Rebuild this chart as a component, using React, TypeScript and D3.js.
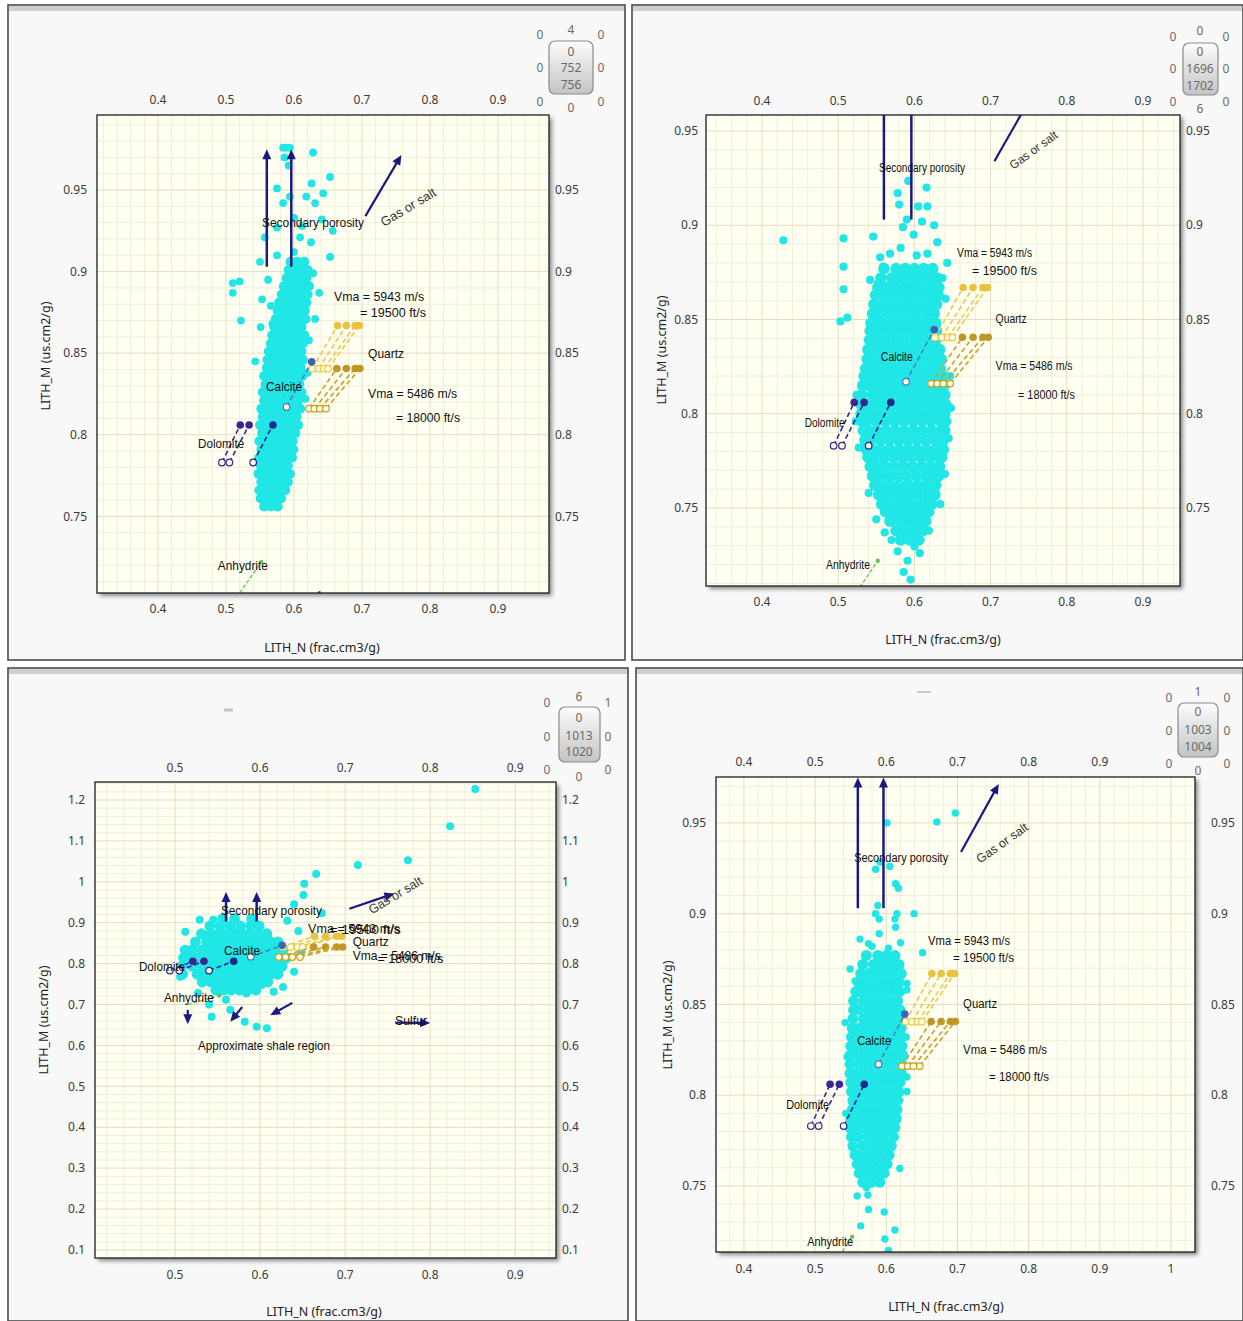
import React from "react";
import * as d3 from "d3";

// ---------- tick values ----------
const X_TICKS = [0.4, 0.5, 0.6, 0.7, 0.8, 0.9];
const X_TICKS_P3 = [0.5, 0.6, 0.7, 0.8, 0.9];
const X_TICKS_P4_BOTTOM = [0.4, 0.5, 0.6, 0.7, 0.8, 0.9, 1];
const Y_TICKS = [0.75, 0.8, 0.85, 0.9, 0.95];
const Y_TICKS_P3 = [0.1, 0.2, 0.3, 0.4, 0.5, 0.6, 0.7, 0.8, 0.9, 1, 1.1, 1.2];

// ---------- scatter data: dense core rows [y, xs] and sparse points [x, y] ----------
const P1_CORE: [number, number[]][] = [
  [0.756, [0.556, 0.566, 0.576]],
  [0.761, [0.551, 0.561, 0.571, 0.581]],
  [0.766, [0.549, 0.558, 0.568, 0.578, 0.587]],
  [0.771, [0.552, 0.562, 0.572, 0.582, 0.591]],
  [0.776, [0.548, 0.557, 0.567, 0.577, 0.587, 0.594]],
  [0.781, [0.551, 0.561, 0.571, 0.581, 0.591]],
  [0.786, [0.549, 0.558, 0.568, 0.578, 0.588, 0.597]],
  [0.791, [0.552, 0.562, 0.572, 0.582, 0.592, 0.599]],
  [0.796, [0.549, 0.558, 0.568, 0.578, 0.588, 0.598]],
  [0.801, [0.553, 0.563, 0.573, 0.583, 0.593, 0.602]],
  [0.806, [0.55, 0.559, 0.569, 0.579, 0.589, 0.599, 0.606]],
  [0.811, [0.554, 0.564, 0.574, 0.584, 0.594, 0.604]],
  [0.816, [0.552, 0.561, 0.571, 0.581, 0.591, 0.601, 0.609]],
  [0.821, [0.556, 0.566, 0.576, 0.586, 0.596, 0.606]],
  [0.826, [0.554, 0.563, 0.573, 0.583, 0.593, 0.603, 0.611]],
  [0.831, [0.558, 0.568, 0.578, 0.588, 0.598, 0.608]],
  [0.836, [0.556, 0.565, 0.575, 0.585, 0.595, 0.605, 0.612]],
  [0.841, [0.56, 0.57, 0.58, 0.59, 0.6, 0.61]],
  [0.846, [0.561, 0.567, 0.577, 0.587, 0.597, 0.607, 0.613]],
  [0.851, [0.563, 0.572, 0.582, 0.592, 0.602, 0.611]],
  [0.856, [0.566, 0.575, 0.585, 0.595, 0.605, 0.613]],
  [0.861, [0.568, 0.578, 0.588, 0.598, 0.608, 0.615]],
  [0.866, [0.571, 0.581, 0.591, 0.601, 0.611]],
  [0.871, [0.573, 0.583, 0.593, 0.603, 0.613, 0.617]],
  [0.876, [0.576, 0.586, 0.596, 0.606, 0.616]],
  [0.881, [0.578, 0.588, 0.598, 0.608, 0.618]],
  [0.886, [0.582, 0.591, 0.601, 0.611, 0.62]],
  [0.891, [0.585, 0.594, 0.604, 0.614, 0.622]],
  [0.896, [0.589, 0.598, 0.608, 0.618]],
  [0.901, [0.592, 0.602, 0.612, 0.62]],
  [0.906, [0.595, 0.605, 0.615]],
];
const P1_SPARSE: [number, number][] = [
  [0.628, 0.973], [0.584, 0.976], [0.589, 0.976], [0.594, 0.976], [0.586, 0.97], [0.592, 0.965],
  [0.575, 0.951], [0.594, 0.946], [0.626, 0.954], [0.653, 0.958], [0.643, 0.948], [0.618, 0.946],
  [0.631, 0.942], [0.584, 0.942], [0.557, 0.921], [0.575, 0.927], [0.609, 0.921], [0.641, 0.932],
  [0.657, 0.925], [0.653, 0.909], [0.575, 0.91], [0.55, 0.906], [0.51, 0.893], [0.52, 0.894],
  [0.51, 0.887], [0.553, 0.883], [0.522, 0.87], [0.568, 0.868], [0.551, 0.866], [0.543, 0.845],
  [0.637, 0.887], [0.631, 0.871], [0.6, 0.933], [0.612, 0.928], [0.625, 0.918], [0.6, 0.912],
  [0.622, 0.858], [0.62, 0.838], [0.562, 0.895], [0.628, 0.899], [0.566, 0.879], [0.617, 0.822],
];

const P2_CORE: [number, number[]][] = [
  [0.733, [0.582, 0.594, 0.606]],
  [0.738, [0.576, 0.588, 0.6, 0.611]],
  [0.743, [0.568, 0.58, 0.592, 0.604, 0.615]],
  [0.748, [0.562, 0.574, 0.586, 0.598, 0.61, 0.619]],
  [0.752, [0.557, 0.568, 0.58, 0.592, 0.604, 0.616, 0.623]],
  [0.757, [0.553, 0.563, 0.575, 0.587, 0.599, 0.611, 0.623, 0.627]],
  [0.762, [0.548, 0.557, 0.569, 0.581, 0.593, 0.605, 0.617, 0.628]],
  [0.767, [0.545, 0.554, 0.566, 0.578, 0.59, 0.602, 0.614, 0.626, 0.632]],
  [0.772, [0.542, 0.551, 0.562, 0.574, 0.586, 0.598, 0.61, 0.622, 0.633]],
  [0.777, [0.539, 0.548, 0.56, 0.572, 0.584, 0.596, 0.608, 0.62, 0.632, 0.636]],
  [0.781, [0.537, 0.545, 0.556, 0.568, 0.58, 0.592, 0.604, 0.616, 0.628, 0.638]],
  [0.786, [0.535, 0.543, 0.555, 0.567, 0.579, 0.591, 0.603, 0.615, 0.627, 0.638]],
  [0.791, [0.533, 0.54, 0.551, 0.563, 0.575, 0.587, 0.599, 0.611, 0.623, 0.635, 0.64]],
  [0.796, [0.531, 0.538, 0.55, 0.562, 0.574, 0.586, 0.598, 0.61, 0.622, 0.634, 0.641]],
  [0.8, [0.53, 0.535, 0.545, 0.557, 0.569, 0.581, 0.593, 0.605, 0.617, 0.629, 0.64]],
  [0.805, [0.53, 0.539, 0.551, 0.563, 0.575, 0.587, 0.599, 0.611, 0.623, 0.635, 0.641]],
  [0.81, [0.531, 0.545, 0.557, 0.569, 0.581, 0.593, 0.605, 0.617, 0.629, 0.64]],
  [0.815, [0.532, 0.54, 0.551, 0.563, 0.575, 0.587, 0.599, 0.611, 0.623, 0.635, 0.639]],
  [0.82, [0.534, 0.545, 0.557, 0.569, 0.581, 0.593, 0.605, 0.617, 0.629, 0.638]],
  [0.824, [0.536, 0.541, 0.551, 0.563, 0.575, 0.587, 0.599, 0.611, 0.623, 0.634]],
  [0.829, [0.538, 0.546, 0.558, 0.57, 0.582, 0.594, 0.606, 0.618, 0.63, 0.635]],
  [0.834, [0.539, 0.551, 0.563, 0.575, 0.587, 0.599, 0.611, 0.623, 0.633]],
  [0.839, [0.541, 0.546, 0.557, 0.569, 0.581, 0.593, 0.605, 0.617, 0.628]],
  [0.844, [0.542, 0.552, 0.564, 0.576, 0.588, 0.6, 0.612, 0.624, 0.629]],
  [0.848, [0.543, 0.548, 0.558, 0.57, 0.582, 0.594, 0.606, 0.618, 0.628]],
  [0.853, [0.545, 0.554, 0.566, 0.578, 0.59, 0.602, 0.614, 0.626]],
  [0.858, [0.547, 0.56, 0.572, 0.584, 0.596, 0.608, 0.62, 0.629]],
  [0.863, [0.549, 0.556, 0.568, 0.58, 0.592, 0.604, 0.616, 0.627, 0.631]],
  [0.867, [0.552, 0.563, 0.575, 0.587, 0.599, 0.611, 0.623, 0.632]],
  [0.872, [0.556, 0.57, 0.582, 0.594, 0.606, 0.618, 0.63]],
  [0.877, [0.56, 0.576, 0.588, 0.6, 0.612, 0.624]],
];
const P2_SPARSE: [number, number][] = [
  [0.592, 0.9235], [0.578, 0.917], [0.616, 0.92], [0.58, 0.911], [0.605, 0.91], [0.617, 0.91],
  [0.626, 0.9], [0.507, 0.893], [0.546, 0.894], [0.428, 0.892], [0.599, 0.895], [0.568, 0.885],
  [0.63, 0.891], [0.617, 0.885], [0.643, 0.88], [0.559, 0.878], [0.507, 0.878], [0.507, 0.866],
  [0.542, 0.871], [0.552, 0.869], [0.503, 0.849], [0.512, 0.851], [0.59, 0.903], [0.585, 0.899],
  [0.61, 0.902], [0.586, 0.716], [0.595, 0.712], [0.591, 0.722], [0.578, 0.727], [0.607, 0.726],
  [0.6, 0.7295], [0.57, 0.733], [0.555, 0.883], [0.582, 0.888], [0.603, 0.884], [0.637, 0.872],
  [0.641, 0.861], [0.524, 0.81], [0.523, 0.796], [0.527, 0.782], [0.647, 0.82], [0.648, 0.803],
  [0.645, 0.787], [0.64, 0.768], [0.634, 0.752], [0.54, 0.758], [0.55, 0.744], [0.561, 0.737],
  [0.619, 0.738],
];

const P3_CORE: [number, number[]][] = [
  [0.735, [0.548, 0.557, 0.566, 0.576, 0.585, 0.595]],
  [0.755, [0.532, 0.542, 0.552, 0.561, 0.571, 0.58, 0.59, 0.599, 0.609]],
  [0.774, [0.509, 0.526, 0.537, 0.547, 0.556, 0.566, 0.575, 0.585, 0.594, 0.604, 0.613, 0.621]],
  [0.794, [0.508, 0.52, 0.532, 0.542, 0.551, 0.561, 0.57, 0.58, 0.589, 0.599, 0.608, 0.618, 0.626]],
  [0.814, [0.51, 0.518, 0.527, 0.537, 0.546, 0.556, 0.565, 0.575, 0.584, 0.594, 0.603, 0.613, 0.622, 0.631]],
  [0.833, [0.512, 0.52, 0.532, 0.542, 0.551, 0.561, 0.57, 0.58, 0.589, 0.599, 0.608, 0.618, 0.627]],
  [0.853, [0.524, 0.537, 0.546, 0.556, 0.565, 0.575, 0.584, 0.594, 0.603, 0.613, 0.621]],
  [0.873, [0.531, 0.542, 0.551, 0.561, 0.57, 0.58, 0.589, 0.599, 0.608]],
  [0.892, [0.541, 0.553, 0.565, 0.577, 0.589, 0.599]],
  [0.91, [0.556, 0.57, 0.59]],
];
const P3_SPARSE: [number, number][] = [
  [0.853, 1.227], [0.8235, 1.136], [0.774, 1.053], [0.715, 1.041], [0.666, 1.019], [0.652, 0.995],
  [0.651, 0.968], [0.6726, 0.923], [0.64, 0.945], [0.632, 0.905], [0.645, 0.88], [0.529, 0.907],
  [0.545, 0.907], [0.512, 0.878], [0.506, 0.768], [0.527, 0.728], [0.543, 0.67], [0.565, 0.687],
  [0.582, 0.658], [0.596, 0.646], [0.608, 0.642], [0.584, 0.727], [0.602, 0.748], [0.616, 0.731],
  [0.627, 0.743], [0.56, 0.712], [0.54, 0.7], [0.64, 0.78], [0.648, 0.83],
];

const P4_CORE: [number, number[]][] = [
  [0.752, [0.567, 0.579, 0.591]],
  [0.757, [0.562, 0.573, 0.585, 0.597]],
  [0.762, [0.559, 0.567, 0.579, 0.591, 0.601]],
  [0.767, [0.556, 0.562, 0.574, 0.586, 0.598, 0.604]],
  [0.772, [0.553, 0.567, 0.58, 0.592, 0.604, 0.607]],
  [0.777, [0.551, 0.561, 0.574, 0.586, 0.598, 0.61]],
  [0.782, [0.549, 0.556, 0.568, 0.58, 0.592, 0.604, 0.612]],
  [0.787, [0.55, 0.562, 0.574, 0.586, 0.598, 0.61, 0.614]],
  [0.792, [0.552, 0.556, 0.568, 0.58, 0.592, 0.604, 0.615]],
  [0.797, [0.553, 0.562, 0.574, 0.586, 0.598, 0.61, 0.616]],
  [0.802, [0.551, 0.556, 0.568, 0.58, 0.592, 0.604, 0.616, 0.618]],
  [0.807, [0.55, 0.562, 0.574, 0.586, 0.598, 0.61, 0.619]],
  [0.812, [0.549, 0.556, 0.568, 0.58, 0.592, 0.604, 0.616, 0.621]],
  [0.817, [0.549, 0.562, 0.574, 0.586, 0.598, 0.61, 0.622]],
  [0.822, [0.549, 0.556, 0.568, 0.58, 0.592, 0.604, 0.616, 0.623]],
  [0.827, [0.55, 0.562, 0.574, 0.586, 0.598, 0.61, 0.622]],
  [0.832, [0.551, 0.556, 0.568, 0.58, 0.592, 0.604, 0.616, 0.622]],
  [0.837, [0.552, 0.562, 0.574, 0.586, 0.598, 0.61, 0.621]],
  [0.842, [0.553, 0.568, 0.58, 0.592, 0.604, 0.616, 0.62]],
  [0.847, [0.554, 0.562, 0.574, 0.586, 0.598, 0.61, 0.619]],
  [0.852, [0.554, 0.568, 0.58, 0.592, 0.604, 0.616]],
  [0.857, [0.557, 0.563, 0.575, 0.587, 0.599, 0.611, 0.619]],
  [0.862, [0.561, 0.57, 0.582, 0.594, 0.606, 0.618]],
  [0.867, [0.564, 0.576, 0.588, 0.6, 0.612, 0.621]],
  [0.872, [0.567, 0.582, 0.594, 0.606, 0.618]],
  [0.877, [0.572, 0.588, 0.6, 0.612]],
];
const P4_SPARSE: [number, number][] = [
  [0.601, 0.95], [0.671, 0.9505], [0.697, 0.9555], [0.591, 0.9285], [0.605, 0.926], [0.585, 0.9245],
  [0.613, 0.9165], [0.617, 0.914], [0.639, 0.9], [0.588, 0.9045], [0.615, 0.9], [0.585, 0.9],
  [0.59, 0.897], [0.612, 0.897], [0.59, 0.889], [0.613, 0.8925], [0.651, 0.8785], [0.563, 0.886],
  [0.575, 0.8835], [0.62, 0.884], [0.549, 0.8695], [0.556, 0.863], [0.559, 0.8577], [0.629, 0.8616],
  [0.629, 0.858], [0.559, 0.7445], [0.572, 0.749], [0.574, 0.745], [0.575, 0.737], [0.597, 0.7357],
  [0.564, 0.728], [0.612, 0.7257], [0.598, 0.7208], [0.603, 0.7145], [0.58, 0.76], [0.619, 0.7596],
  [0.629, 0.81], [0.629, 0.802], [0.545, 0.821], [0.542, 0.84], [0.543, 0.79], [0.628, 0.832],
  [0.58, 0.882], [0.603, 0.881],
];

// ---------- lithology overlay (x1, y1, x2, y2) ----------
const POROSITY_ARROWS: number[][] = [[0.56, 0.903, 0.56, 0.975], [0.596, 0.903, 0.596, 0.975]];
const GAS_ARROW: number[][] = [[0.705, 0.934, 0.758, 0.9715]];
const SHALE_ARROWS: number[][] = [[0.515, 0.687, 0.515, 0.652], [0.579, 0.694, 0.565, 0.658], [0.638, 0.704, 0.612, 0.674]];
const SULFUR_ARROW: number[][] = [[0.759, 0.656, 0.8, 0.655]];
const QUARTZ_5943: number[][] = [[0.627, 0.8405, 0.664, 0.867], [0.636, 0.8405, 0.677, 0.867], [0.644, 0.8405, 0.69, 0.867], [0.65, 0.8405, 0.696, 0.867]];
const QUARTZ_5486: number[][] = [[0.622, 0.816, 0.663, 0.8406], [0.63, 0.816, 0.677, 0.8406], [0.638, 0.816, 0.69, 0.8406], [0.647, 0.816, 0.697, 0.8406]];
const DOLOMITE_LINES: number[][] = [[0.494, 0.783, 0.521, 0.806], [0.505, 0.783, 0.534, 0.806]];
const DOLOMITE_B_LINES: number[][] = [[0.54, 0.783, 0.569, 0.806]];
const CALCITE_LINES: number[][] = [[0.589, 0.817, 0.626, 0.8447]];
const ANHYDRITE_LINES: number[][] = [[0.515, 0.7, 0.552, 0.722]];

// labels: [text, x, y, width(px), rotation]
type Lbl = [string, number, number, number, number];
const P1_LABELS: Lbl[] = [
  ["Secondary porosity", 0.553, 0.9304, 102, 0], ["Gas or salt", 0.768, 0.9396, 62, -31],
  ["Vma = 5943 m/s", 0.659, 0.885, 90, 0], ["= 19500 ft/s", 0.697, 0.8752, 66, 0],
  ["Quartz", 0.709, 0.85, 36, 0], ["Vma = 5486 m/s", 0.709, 0.8255, 89, 0],
  ["= 18000 ft/s", 0.75, 0.8107, 64, 0], ["Calcite", 0.559, 0.8298, 36, 0],
  ["Dolomite", 0.459, 0.7948, 46, 0], ["Anhydrite", 0.488, 0.7199, 50, 0],
];
const P2_LABELS: Lbl[] = [
  ["Secondary porosity", 0.5535, 0.9304, 86, 0], ["Gas or salt", 0.7564, 0.94, 56, -36],
  ["Vma = 5943 m/s", 0.656, 0.8853, 75, 0], ["= 19500 ft/s", 0.6756, 0.8757, 65, 0],
  ["Quartz", 0.7066, 0.8502, 31, 0], ["Vma = 5486 m/s", 0.7066, 0.8253, 77, 0],
  ["= 18000 ft/s", 0.736, 0.81, 57, 0], ["Calcite", 0.556, 0.8301, 32, 0],
  ["Dolomite", 0.456, 0.7951, 40, 0], ["Anhydrite", 0.484, 0.7198, 44, 0],
];
const P3_LABELS: Lbl[] = [
  ["Secondary porosity", 0.554, 0.931, 101, 0], ["Gas or salt", 0.759, 0.9677, 60, -31],
  ["Vma = 5943 m/s", 0.6565, 0.887, 92, 0], ["= 19500 ft/s", 0.682, 0.8846, 71, 0],
  ["Quartz", 0.709, 0.855, 36, 0], ["Vma = 5486 m/s", 0.709, 0.821, 88, 0],
  ["= 18000 ft/s", 0.738, 0.8137, 66, 0], ["Calcite", 0.5576, 0.831, 36, 0],
  ["Dolomite", 0.4576, 0.794, 46, 0], ["Anhydrite", 0.487, 0.718, 50, 0],
  ["Approximate shale region", 0.527, 0.599, 132, 0], ["Sulfur", 0.7588, 0.662, 32, 0],
];
const P4_LABELS: Lbl[] = [
  ["Secondary porosity", 0.5548, 0.9307, 94, 0], ["Gas or salt", 0.7626, 0.939, 60, -35],
  ["Vma = 5943 m/s", 0.6587, 0.885, 82, 0], ["= 19500 ft/s", 0.6938, 0.8756, 61, 0],
  ["Quartz", 0.7079, 0.8503, 34, 0], ["Vma = 5486 m/s", 0.7079, 0.8249, 84, 0],
  ["= 18000 ft/s", 0.7444, 0.8101, 60, 0], ["Calcite", 0.559, 0.8299, 34, 0],
  ["Dolomite", 0.4593, 0.7946, 43, 0], ["Anhydrite", 0.4888, 0.7192, 46, 0],
];

// counters: top, inner x3, left x3, right x3, bottom
const P1_COUNTER = { top: "4", inner: ["0", "752", "756"], left: ["0", "0", "0"], right: ["0", "0", "0"], bottom: "0" };
const P2_COUNTER = { top: "0", inner: ["0", "1696", "1702"], left: ["0", "0", "0"], right: ["0", "0", "0"], bottom: "6" };
const P3_COUNTER = { top: "6", inner: ["0", "1013", "1020"], left: ["0", "0", "0"], right: ["1", "0", "0"], bottom: "0" };
const P4_COUNTER = { top: "1", inner: ["0", "1003", "1004"], left: ["0", "0", "0"], right: ["0", "0", "0"], bottom: "0" };

const X_TITLE = "LITH_N (frac.cm3/g)";
const Y_TITLE = "LITH_M (us.cm2/g)";

type Counter = typeof P1_COUNTER;
type Panel = {
  id: string;
  frame: number[];
  plot: number[];
  xDom: [number, number];
  yDom: [number, number];
  xTop: number[];
  xBottom: number[];
  yTicks: number[];
  yMinorPer: number;
  core: [number, number[]][];
  sparse: [number, number][];
  labels: Lbl[];
  fs: number;
  r: number;
  coreR: number;
  off: number[];
  xTitle: number[];
  yTitle: number[];
  counter: Counter;
  cgeo: { cx: number; box: number[]; topY: number; innerY: number[]; lx: number; rx: number; sideY: number[]; botY: number };
};

const PANELS: Panel[] = [
  {
    id: "p1", frame: [8, 5, 617, 655], plot: [97, 115, 549, 593], xDom: [0.3103, 0.975], yDom: [0.703, 0.996],
    xTop: X_TICKS, xBottom: X_TICKS, yTicks: Y_TICKS, yMinorPer: 100, core: P1_CORE, sparse: P1_SPARSE,
    labels: P1_LABELS, fs: 13, r: 3.9, coreR: 5, off: [15, 16, 10, 6], xTitle: [322, 648], yTitle: [46, 356], counter: P1_COUNTER,
    cgeo: { cx: 571, box: [549, 41, 593, 94], topY: 30, innerY: [52, 68, 85], lx: 540, rx: 601, sideY: [35, 68, 102], botY: 108 },
  },
  {
    id: "p2", frame: [632, 5, 611, 655], plot: [706, 115, 1180, 586], xDom: [0.3265, 0.9486], yDom: [0.7086, 0.9585],
    xTop: X_TICKS, xBottom: X_TICKS, yTicks: Y_TICKS, yMinorPer: 100, core: P2_CORE, sparse: P2_SPARSE,
    labels: P2_LABELS, fs: 12, r: 4.1, coreR: 5.8, off: [14, 16, 8, 6], xTitle: [943, 640], yTitle: [662, 350], counter: P2_COUNTER,
    cgeo: { cx: 1200, box: [1183, 43, 1218, 95], topY: 31, innerY: [52, 69, 86], lx: 1173, rx: 1226, sideY: [37, 69, 102], botY: 109 },
  },
  {
    id: "p3", frame: [8, 668, 620, 653], plot: [95, 782, 556, 1258], xDom: [0.4059, 0.948], yDom: [0.0804, 1.244],
    xTop: X_TICKS_P3, xBottom: X_TICKS_P3, yTicks: Y_TICKS_P3, yMinorPer: 50, core: P3_CORE, sparse: P3_SPARSE,
    labels: P3_LABELS, fs: 13, r: 4, coreR: 5.4, off: [14, 17, 10, 6], xTitle: [324, 1312], yTitle: [44, 1020], counter: P3_COUNTER,
    cgeo: { cx: 579, box: [559, 707, 600, 762], topY: 697, innerY: [718, 736, 752], lx: 547, rx: 608, sideY: [703, 737, 770], botY: 777 },
  },
  {
    id: "p4", frame: [636, 668, 607, 653], plot: [716, 777, 1195, 1252], xDom: [0.3607, 1.0337], yDom: [0.7136, 0.9753],
    xTop: X_TICKS, xBottom: X_TICKS_P4_BOTTOM, yTicks: Y_TICKS, yMinorPer: 100, core: P4_CORE, sparse: P4_SPARSE,
    labels: P4_LABELS, fs: 12.5, r: 3.7, coreR: 5.5, off: [15, 17, 10, 16], xTitle: [946, 1307], yTitle: [668, 1015], counter: P4_COUNTER,
    cgeo: { cx: 1198, box: [1178, 703, 1218, 757], topY: 692, innerY: [712, 730, 747], lx: 1169, rx: 1227, sideY: [698, 731, 764], botY: 771 },
  },
];

const NAVY = "#1a1a80";
const CYAN = "#20e6e6";
const TICK_FONT = "'Noto Sans', 'Open Sans', sans-serif";
const LABEL_FONT = "'Liberation Sans Narrow', 'Arial Narrow', 'Liberation Sans', Arial, sans-serif";

function fmt(v: number) {
  return String(+v.toFixed(2));
}

function arrowHead(x1: number, y1: number, x2: number, y2: number, len = 10, hw = 4.5) {
  const dx = x2 - x1, dy = y2 - y1;
  const d = Math.hypot(dx, dy) || 1;
  const ux = dx / d, uy = dy / d;
  const bx = x2 - ux * len, by = y2 - uy * len;
  return `${x2},${y2} ${bx - uy * hw},${by + ux * hw} ${bx + uy * hw},${by - ux * hw}`;
}

function PanelView({ p }: { p: Panel }) {
  const [L, T, R, B] = p.plot;
  const x = d3.scaleLinear().domain(p.xDom).range([L, R]);
  const y = d3.scaleLinear().domain(p.yDom).range([B, T]);
  const clip = `clip-${p.id}`;

  const xGrid: { v: number; major: boolean }[] = [];
  for (let k = Math.ceil(p.xDom[0] * 50); k <= Math.floor(p.xDom[1] * 50); k++) xGrid.push({ v: k / 50, major: k % 5 === 0 });
  const yGrid: { v: number; major: boolean }[] = [];
  for (let k = Math.ceil(p.yDom[0] * p.yMinorPer); k <= Math.floor(p.yDom[1] * p.yMinorPer); k++)
    yGrid.push({ v: k / p.yMinorPer, major: k % 5 === 0 });

  const corePts: [number, number][] = [];
  p.core.forEach(([yy, xs]) => xs.forEach((xx) => corePts.push([xx, yy])));

  const seg = (s: number[], color: string, dash: string | undefined, w: number, key: string, ends = true, fillTop = color) => (
    <g key={key}>
      <line x1={x(s[0])} y1={y(s[1])} x2={x(s[2])} y2={y(s[3])} stroke={color} strokeWidth={w} strokeDasharray={dash} />
      {ends && <circle cx={x(s[0])} cy={y(s[1])} r={3.3} fill="#fffbe0" stroke={color} strokeWidth={1.2} />}
      {ends && <circle cx={x(s[2])} cy={y(s[3])} r={3.8} fill={fillTop} />}
    </g>
  );
  const arrow = (s: number[], key: string, w = 2.5) => {
    const x1 = x(s[0]), y1 = y(s[1]), x2 = x(s[2]), y2 = y(s[3]);
    const d = Math.hypot(x2 - x1, y2 - y1);
    const ex = x2 - ((x2 - x1) / d) * 6, ey = y2 - ((y2 - y1) / d) * 6;
    return (
      <g key={key}>
        <line x1={x1} y1={y1} x2={ex} y2={ey} stroke={NAVY} strokeWidth={w} />
        <polygon points={arrowHead(x1, y1, x2, y2)} fill={NAVY} />
      </g>
    );
  };

  const [fx, fy, fw, fh] = p.frame;
  const g = p.cgeo;
  const c = p.counter;

  return (
    <g>
      <rect x={fx} y={fy} width={fw} height={fh} fill="#f8f8f8" stroke="#4a4a4a" strokeWidth={1.6} />
      <rect x={fx + 1} y={fy + 1} width={fw - 2} height={5} fill="#cfcfcf" />
      <rect x={L + 3} y={T + 3} width={R - L} height={B - T} fill="#8a8a8a" filter="url(#blur)" />
      <rect x={L} y={T} width={R - L} height={B - T} fill="#fffff2" />
      <clipPath id={clip}>
        <rect x={L} y={T} width={R - L} height={B - T} />
      </clipPath>
      <g clipPath={`url(#${clip})`}>
        {xGrid.filter((d) => !d.major).map((d, i) => (
          <line key={"xm" + i} x1={x(d.v)} x2={x(d.v)} y1={T} y2={B} stroke="#f1efd8" strokeWidth={1} />
        ))}
        {yGrid.filter((d) => !d.major).map((d, i) => (
          <line key={"ym" + i} y1={y(d.v)} y2={y(d.v)} x1={L} x2={R} stroke="#f1efd8" strokeWidth={1} />
        ))}
        {xGrid.filter((d) => d.major).map((d, i) => (
          <line key={"xM" + i} x1={x(d.v)} x2={x(d.v)} y1={T} y2={B} stroke="#e3ddbf" strokeWidth={1} />
        ))}
        {yGrid.filter((d) => d.major).map((d, i) => (
          <line key={"yM" + i} y1={y(d.v)} y2={y(d.v)} x1={L} x2={R} stroke="#e3ddbf" strokeWidth={1} />
        ))}
        {corePts.map((pt, i) => (
          <circle key={"cp" + i} cx={x(pt[0])} cy={y(pt[1])} r={p.coreR} fill={CYAN} />
        ))}
        {p.sparse.map((pt, i) => (
          <circle key={"sp" + i} cx={x(pt[0])} cy={y(pt[1])} r={p.r} fill={CYAN} />
        ))}
        {ANHYDRITE_LINES.map((s, i) => seg(s, "#7ccf6e", "4,2", 1.6, "an" + i, false))}
        {ANHYDRITE_LINES.map((s, i) => (
          <circle key={"anc" + i} cx={x(s[2])} cy={y(s[3])} r={2.2} fill="#6cc45e" />
        ))}
        {QUARTZ_5943.map((s, i) => seg(s, "#ecc94a", "5,3", 1.6, "q1" + i, true, "#e8c23c"))}
        {QUARTZ_5486.map((s, i) => seg(s, "#c9a02a", "5,3", 1.6, "q2" + i, true, "#c29624"))}
        {DOLOMITE_LINES.map((s, i) => seg(s, "#3b2590", "5,3", 1.6, "do" + i, true))}
        {DOLOMITE_B_LINES.map((s, i) => seg(s, "#1f2a8a", "5,3", 1.6, "db" + i, true))}
        {CALCITE_LINES.map((s, i) => seg(s, "#4a78c4", "5,3", 1.4, "ca" + i, true, "#3c64b4"))}
        {POROSITY_ARROWS.map((s, i) => arrow(s, "pa" + i))}
        {GAS_ARROW.map((s, i) => arrow(s, "ga" + i, 2.2))}
        {SHALE_ARROWS.map((s, i) => arrow(s, "sa" + i, 2.2))}
        {SULFUR_ARROW.map((s, i) => arrow(s, "su" + i, 2.2))}
        {p.labels.map(([t, lx, ly, w, rot], i) =>
          rot === 0 ? (
            <text key={"lb" + i} x={x(lx)} y={y(ly)} dy="0.35em" fontSize={p.fs} fontFamily={LABEL_FONT} fill="#111"
              textLength={w} lengthAdjust="spacingAndGlyphs">{t}</text>
          ) : (
            <text key={"lb" + i} transform={`translate(${x(lx)},${y(ly)}) rotate(${rot})`} textAnchor="middle" dy="0.35em"
              fontSize={p.fs} fontFamily={LABEL_FONT} fill="#333" textLength={w} lengthAdjust="spacingAndGlyphs">{t}</text>
          )
        )}
      </g>
      <rect x={L} y={T} width={R - L} height={B - T} fill="none" stroke="#1e1e1e" strokeWidth={1.3} />

      <g fontFamily={TICK_FONT} fontSize={12} fill="#3a3a3a">
        {p.xTop.map((v) => (
          <text key={"xt" + v} x={x(v)} y={T - p.off[0]} dy="0.35em" textAnchor="middle">{fmt(v)}</text>
        ))}
        {p.xBottom.map((v) => (
          <text key={"xb" + v} x={x(v)} y={B + p.off[1]} dy="0.35em" textAnchor="middle">{fmt(v)}</text>
        ))}
        {p.yTicks.map((v) => (
          <text key={"yl" + v} x={L - p.off[2]} y={y(v)} dy="0.35em" textAnchor="end">{fmt(v)}</text>
        ))}
        {p.yTicks.map((v) => (
          <text key={"yr" + v} x={R + p.off[3]} y={y(v)} dy="0.35em" textAnchor="start">{fmt(v)}</text>
        ))}
      </g>
      <text x={p.xTitle[0]} y={p.xTitle[1]} dy="0.35em" textAnchor="middle" fontFamily={TICK_FONT} fontSize={12.5} fill="#222">{X_TITLE}</text>
      <text transform={`translate(${p.yTitle[0]},${p.yTitle[1]}) rotate(-90)`} dy="0.35em" textAnchor="middle" fontFamily={TICK_FONT}
        fontSize={12.5} fill="#222">{Y_TITLE}</text>

      <defs>
        <linearGradient id={"cg" + p.id} x1="0" y1="0" x2="0" y2="1">
          <stop offset="0" stopColor="#fdfdfd" />
          <stop offset="0.45" stopColor="#e2e2e2" />
          <stop offset="1" stopColor="#c4c4c4" />
        </linearGradient>
      </defs>
      <rect x={g.box[0]} y={g.box[1]} width={g.box[2] - g.box[0]} height={g.box[3] - g.box[1]} rx={6}
        fill={`url(#cg${p.id})`} stroke="#8c8c8c" strokeWidth={1.2} />
      <g fontFamily={TICK_FONT} fontSize={12} fill="#6a6a6a" textAnchor="middle">
        <text x={g.cx} y={g.topY} dy="0.35em">{c.top}</text>
        {c.inner.map((t, i) => (
          <text key={"ci" + i} x={g.cx} y={g.innerY[i]} dy="0.35em">{t}</text>
        ))}
        {c.left.map((t, i) => (
          <text key={"cl" + i} x={g.lx} y={g.sideY[i]} dy="0.35em">{t}</text>
        ))}
        {c.right.map((t, i) => (
          <text key={"cr" + i} x={g.rx} y={g.sideY[i]} dy="0.35em">{t}</text>
        ))}
        <text x={g.cx} y={g.botY} dy="0.35em">{c.bottom}</text>
      </g>
    </g>
  );
}

export default function App() {
  return (
    <svg width={1243} height={1321} style={{ position: "absolute", left: 0, top: 0, background: "#fff" }}>
      <defs>
        <filter id="blur" x="-5%" y="-5%" width="110%" height="110%">
          <feGaussianBlur stdDeviation="2" />
        </filter>
      </defs>
      <rect width={1243} height={1321} fill="#fff" />
      {PANELS.map((p) => (
        <PanelView key={p.id} p={p} />
      ))}
      <line x1={224} y1={710} x2={233} y2={710} stroke="#c4c4c4" strokeWidth={3} />
      <line x1={917} y1={692} x2={931} y2={692} stroke="#9a9a9a" strokeWidth={1} />
    </svg>
  );
}
